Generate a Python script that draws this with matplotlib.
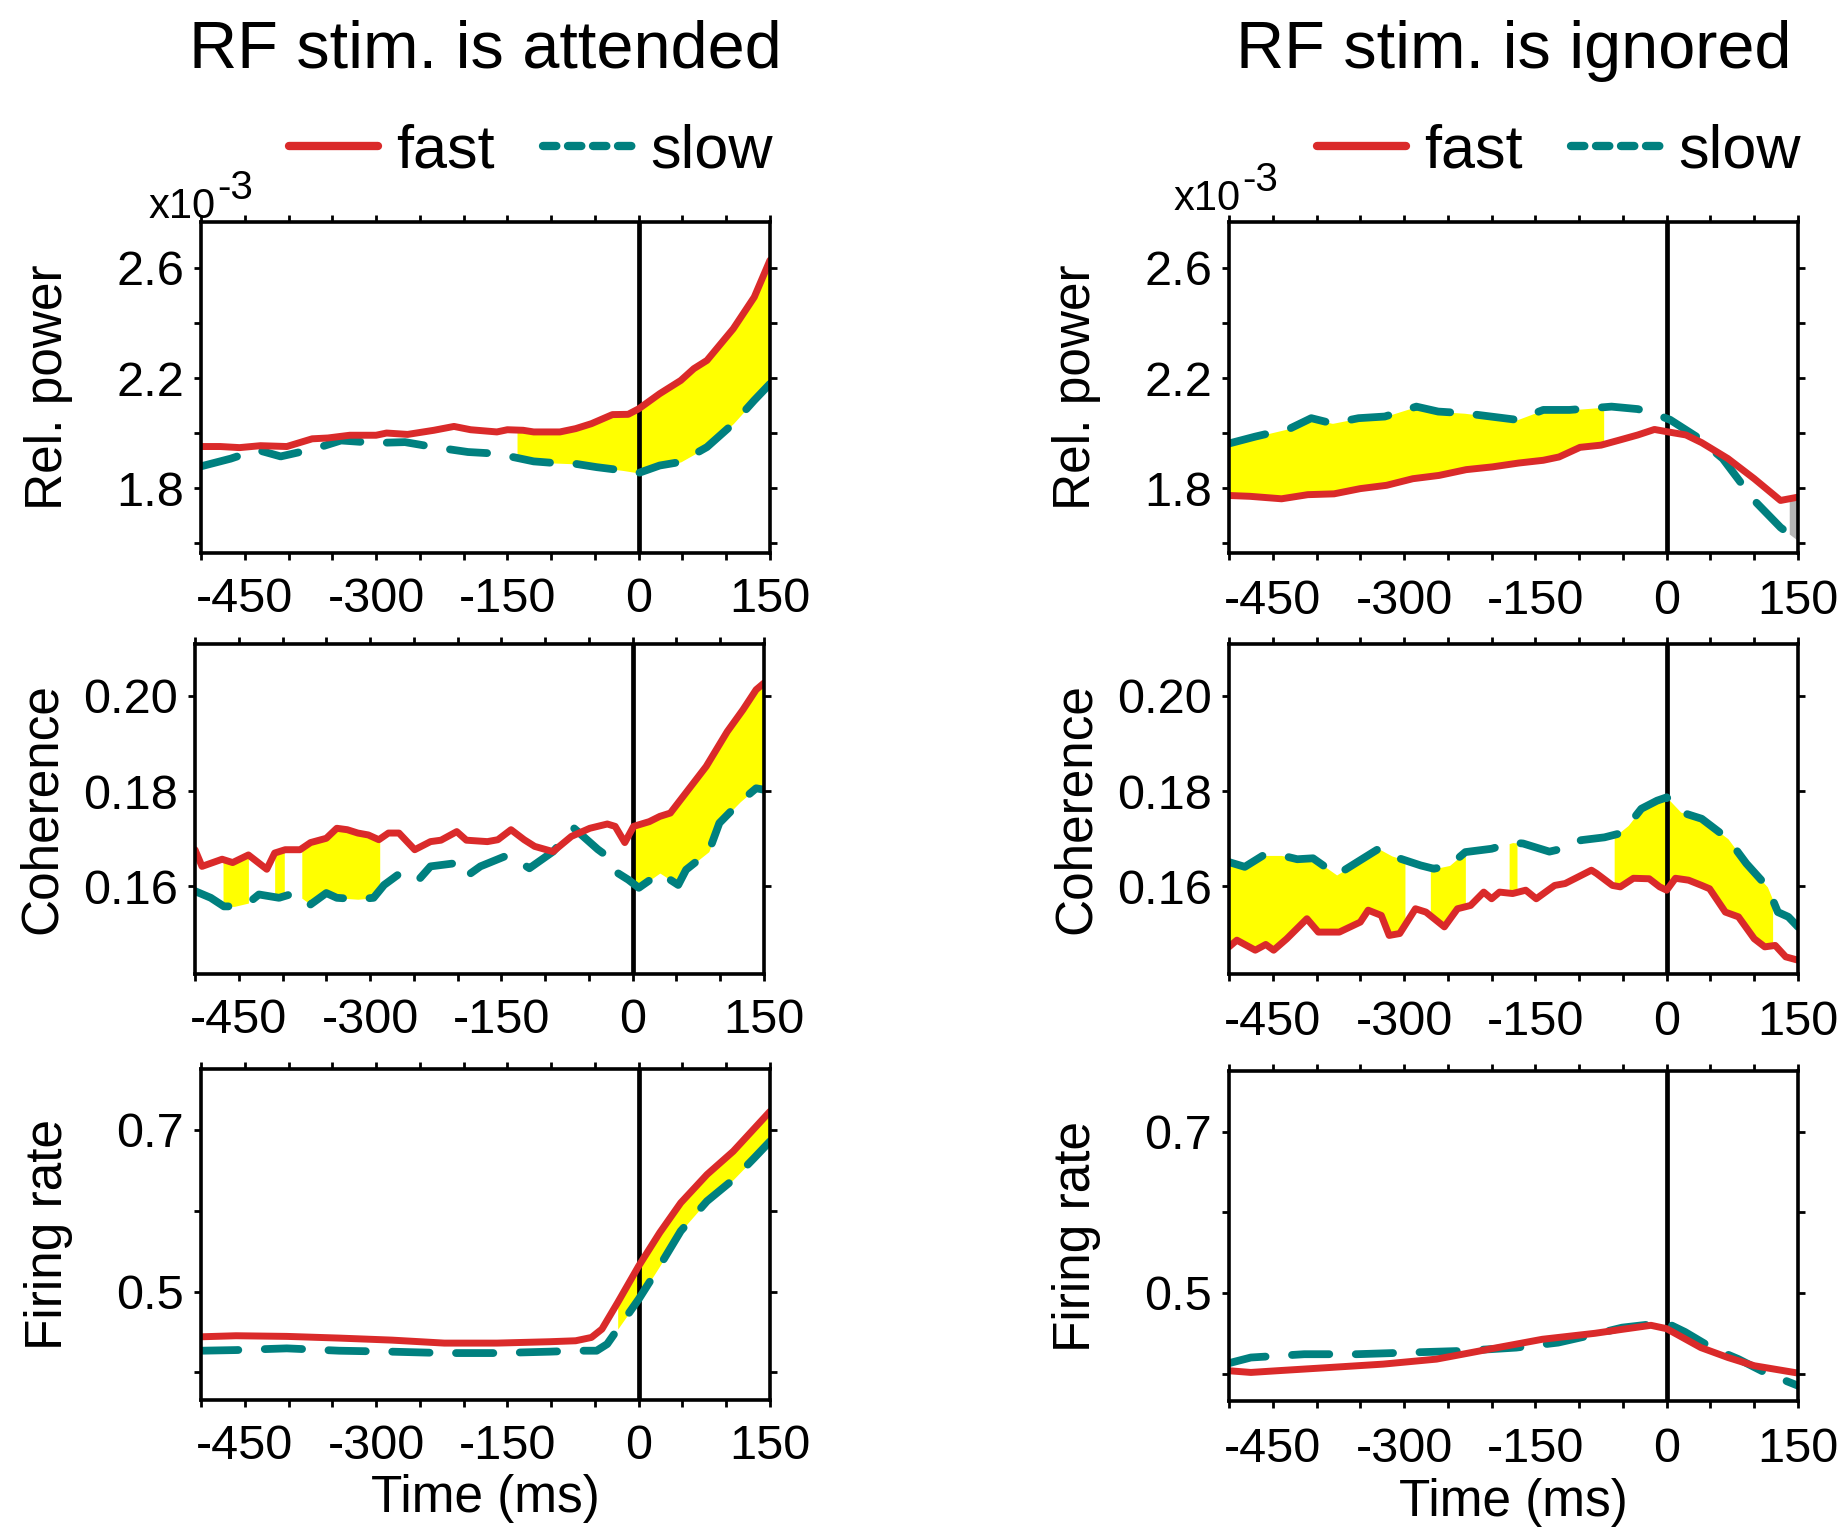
import numpy as np
import matplotlib
matplotlib.use("Agg")
import matplotlib.pyplot as plt
from matplotlib.lines import Line2D

plt.rcParams['font.family'] = ['Liberation Sans', 'DejaVu Sans']
plt.rcParams['axes.unicode_minus'] = False

# ---------------- data ----------------
column_titles = ["RF stim. is attended", "RF stim. is ignored"]
row_labels = ["Rel. power", "Coherence", "Firing rate"]
series_names = ["fast", "slow"]
x_ticks = [-500, -450, -400, -350, -300, -250, -200, -150, -100, -50, 0, 50, 100, 150]
x_tick_labels = ["", "-450", "", "", "-300", "", "", "-150", "", "", "0", "", "", "150"]

# Relative power (x10^-3), attended
pa_fast_t = [-500, -478, -456, -432, -402, -373, -355, -330, -300, -288, -264, -234, -211, -192, -162, -150,
             -132, -120, -90, -72, -54, -30, -12, 0, 24, 48, 63, 78, 108, 132, 150]
pa_fast = [1.951, 1.951, 1.947, 1.954, 1.951, 1.979, 1.982, 1.992, 1.992, 2.000, 1.995, 2.010, 2.024, 2.012,
           2.004, 2.012, 2.010, 2.004, 2.004, 2.016, 2.034, 2.067, 2.068, 2.088, 2.143, 2.191, 2.234, 2.264,
           2.379, 2.494, 2.628]
pa_slow_t = [-500, -466, -436, -409, -370, -340, -300, -267, -234, -195, -162, -138, -120, -96, -72, -48, -18,
             0, 24, 48, 78, 108, 132, 150]
pa_slow = [1.879, 1.907, 1.939, 1.915, 1.943, 1.973, 1.964, 1.967, 1.949, 1.931, 1.925, 1.909, 1.897, 1.891,
           1.888, 1.876, 1.864, 1.855, 1.882, 1.895, 1.949, 2.034, 2.119, 2.179]
pa_sig = [(-139, 150)]

# Relative power (x10^-3), ignored
pi_fast_t = [-500, -476, -440, -410, -380, -350, -320, -290, -260, -229, -199, -169, -141, -123, -99, -75, -51,
             -33, -14, 0, 22, 40, 70, 100, 130, 150]
pi_fast = [1.773, 1.770, 1.761, 1.776, 1.779, 1.798, 1.810, 1.834, 1.846, 1.867, 1.877, 1.891, 1.901, 1.913,
           1.948, 1.956, 1.977, 1.993, 2.013, 2.005, 1.993, 1.965, 1.907, 1.834, 1.755, 1.767]
pi_slow_t = [-500, -470, -430, -406, -382, -352, -322, -286, -261, -231, -201, -171, -141, -111, -87, -63, -33,
             -14, 4, 34, 64, 100, 130, 150]
pi_slow = [1.962, 1.987, 2.017, 2.054, 2.035, 2.054, 2.060, 2.096, 2.078, 2.072, 2.060, 2.048, 2.084, 2.084,
           2.090, 2.096, 2.087, 2.070, 2.048, 1.987, 1.907, 1.755, 1.657, 1.609]
pi_sig = [(-500, -72)]
pi_sig_rev = [(140, 150)]

# Coherence, attended
ca_fast_t = [-500, -492, -469, -457, -439, -418, -409, -397, -380, -368, -350, -338, -326, -314, -302, -290,
             -279, -267, -249, -231, -219, -201, -190, -166, -154, -139, -124, -112, -91, -70, -49, -29, -20,
             -9, 1, 19, 31, 43, 61, 84, 108, 126, 141, 150]
ca_fast = [0.1677, 0.1642, 0.1657, 0.1650, 0.1666, 0.1636, 0.1670, 0.1677, 0.1677, 0.1692, 0.1701, 0.1722,
           0.1719, 0.1712, 0.1708, 0.1698, 0.1712, 0.1712, 0.1677, 0.1694, 0.1697, 0.1715, 0.1697, 0.1694,
           0.1698, 0.1719, 0.1698, 0.1684, 0.1673, 0.1705, 0.1722, 0.1731, 0.1726, 0.1692, 0.1726, 0.1736,
           0.1747, 0.1754, 0.1797, 0.1852, 0.1925, 0.1971, 0.2013, 0.2027]
ca_slow_t = [-500, -482, -467, -455, -439, -427, -404, -386, -368, -350, -338, -314, -296, -284, -261, -243,
             -231, -201, -190, -174, -142, -118, -91, -67, -40, -29, -18, -5, 7, 31, 52, 61, 87, 99, 123, 141, 150]
ca_slow = [0.1590, 0.1576, 0.1558, 0.1558, 0.1565, 0.1583, 0.1576, 0.1586, 0.1562, 0.1586, 0.1576, 0.1573,
           0.1576, 0.1603, 0.1634, 0.1617, 0.1642, 0.1649, 0.1621, 0.1642, 0.1666, 0.1638, 0.1673, 0.1722,
           0.1678, 0.1663, 0.1629, 0.1614, 0.1597, 0.1628, 0.1603, 0.1635, 0.1673, 0.1733, 0.1778, 0.1806, 0.1803]
ca_sig = [(-468, -439), (-409, -398), (-378, -289), (0, 150)]

# Coherence, ignored
ci_fast_t = [-500, -491, -470, -458, -449, -434, -411, -398, -374, -350, -341, -326, -317, -305, -287, -275,
             -254, -239, -224, -209, -200, -191, -176, -161, -149, -128, -116, -86, -80, -62, -53, -38, -20, -8,
             0, 10, 25, 40, 49, 67, 82, 100, 112, 124, 136, 150]
ci_fast = [0.1473, 0.1487, 0.1466, 0.1478, 0.1466, 0.1490, 0.1532, 0.1504, 0.1504, 0.1525, 0.1550, 0.1539,
           0.1497, 0.1501, 0.1553, 0.1546, 0.1515, 0.1553, 0.1560, 0.1588, 0.1574, 0.1588, 0.1585, 0.1592,
           0.1574, 0.1602, 0.1606, 0.1634, 0.1627, 0.1602, 0.1599, 0.1617, 0.1616, 0.1599, 0.1592, 0.1617,
           0.1613, 0.1602, 0.1595, 0.1546, 0.1536, 0.1490, 0.1473, 0.1476, 0.1452, 0.1445]
ci_slow_t = [-500, -482, -461, -440, -422, -404, -377, -350, -329, -314, -281, -266, -248, -230, -200, -176,
             -164, -134, -110, -98, -71, -56, -44, -29, -11, 0, 16, 40, 70, 91, 115, 127, 139, 150]
ci_slow = [0.1651, 0.1641, 0.1665, 0.1665, 0.1657, 0.1659, 0.1624, 0.1655, 0.1679, 0.1664, 0.1644, 0.1637,
           0.1644, 0.1672, 0.1679, 0.1692, 0.1690, 0.1673, 0.1683, 0.1697, 0.1703, 0.1710, 0.1728, 0.1763,
           0.1780, 0.1787, 0.1756, 0.1742, 0.1700, 0.1648, 0.1599, 0.1546, 0.1536, 0.1515]
ci_sig = [(-500, -299), (-270, -230), (-180, -171), (-60, 121)]

# Firing rate, attended
ra_fast_t = [-500, -460, -402, -342, -282, -222, -162, -102, -72, -54, -42, -24, 0, 24, 48, 78, 108, 150]
ra_fast = [0.4441, 0.4454, 0.4446, 0.4425, 0.4400, 0.4363, 0.4363, 0.4380, 0.4392, 0.4433, 0.4536, 0.4864,
           0.5316, 0.5727, 0.6096, 0.6446, 0.6733, 0.7226]
ra_slow_t = [-500, -460, -402, -342, -282, -222, -162, -102, -72, -48, -36, -24, 0, 24, 48, 78, 108, 132, 150]
ra_slow = [0.4269, 0.4277, 0.4298, 0.4269, 0.4257, 0.4240, 0.4240, 0.4257, 0.4269, 0.4269, 0.4351, 0.4536,
           0.4906, 0.5316, 0.5747, 0.6117, 0.6384, 0.6651, 0.6856]
ra_sig = [(-24, 150)]

# Firing rate, ignored
ri_fast_t = [-500, -475, -445, -384, -324, -263, -233, -203, -142, -82, -51, -18, 0, 39, 70, 100, 150]
ri_fast = [0.4035, 0.4014, 0.4035, 0.4076, 0.4117, 0.4179, 0.4240, 0.4302, 0.4425, 0.4499, 0.4548, 0.4598,
           0.4556, 0.4322, 0.4199, 0.4097, 0.4006]
ri_slow_t = [-500, -475, -414, -354, -293, -233, -172, -124, -82, -51, -12, 3, 21, 51, 82, 112, 150]
ri_slow = [0.4129, 0.4199, 0.4240, 0.4240, 0.4261, 0.4281, 0.4322, 0.4384, 0.4487, 0.4569, 0.4618, 0.4610,
           0.4515, 0.4322, 0.4179, 0.4014, 0.3850]
ri_sig = []

# ---------------- style ----------------
RED = '#DA2A2A'
TEAL = '#00807F'
YELLOW = '#FFFF00'
GRAY = '#B4B4B4'

W, H = 1844, 1527
fig = plt.figure(figsize=(W / 100, H / 100), dpi=100)
fig.patch.set_facecolor('white')


def add_ax(l, t, r, b):
    return fig.add_axes([l / W, 1 - b / H, (r - l) / W, (b - t) / H])


rows = [
    dict(ylim=(1.564, 2.767), yticks=[1.6, 1.8, 2.0, 2.2, 2.4, 2.6],
         ylabels=["", "1.8", "", "2.2", "", "2.6"]),
    dict(ylim=(0.1416, 0.2109), yticks=[0.16, 0.18, 0.20],
         ylabels=["0.16", "0.18", "0.20"]),
    dict(ylim=(0.366, 0.775), yticks=[0.4, 0.5, 0.6, 0.7],
         ylabels=["", "0.5", "", "0.7"]),
]

panels = [
    [(pa_fast_t, pa_fast, pa_slow_t, pa_slow, pa_sig, []),
     (pi_fast_t, pi_fast, pi_slow_t, pi_slow, pi_sig, pi_sig_rev)],
    [(ca_fast_t, ca_fast, ca_slow_t, ca_slow, ca_sig, []),
     (ci_fast_t, ci_fast, ci_slow_t, ci_slow, ci_sig, [])],
    [(ra_fast_t, ra_fast, ra_slow_t, ra_slow, ra_sig, []),
     (ri_fast_t, ri_fast, ri_slow_t, ri_slow, ri_sig, [])],
]

boxes = [
    [(201, 222, 770, 553), (1229, 222, 1798, 553)],
    [(195, 644, 764, 974), (1229, 644, 1798, 974)],
    [(201, 1069, 770, 1400), (1229, 1071, 1798, 1401)],
]

TICK_FS = 35
LABEL_FS = 37

for r in range(3):
    for c in range(2):
        l, t, rr, b = boxes[r][c]
        ax = add_ax(l, t, rr, b)
        ft, fv, st, sv, sig, sig_rev = panels[r][c]
        for (a0, a1) in sig:
            xx = np.linspace(a0, a1, 300)
            ax.fill_between(xx, np.interp(xx, ft, fv), np.interp(xx, st, sv),
                            color=YELLOW, lw=0, zorder=1)
        for (a0, a1) in sig_rev:
            xx = np.linspace(a0, a1, 50)
            ax.fill_between(xx, np.interp(xx, ft, fv), np.interp(xx, st, sv),
                            color=GRAY, lw=0, zorder=1)
        ax.axvline(0, color='black', lw=3.4, zorder=2)
        ax.plot(st, sv, color=TEAL, lw=5.6, dashes=(4.8, 3.4), dash_capstyle='round',
                solid_capstyle='round', zorder=3)
        ax.plot(ft, fv, color=RED, lw=5.0, solid_capstyle='round', solid_joinstyle='round', zorder=4)

        ax.set_xlim(-500, 150)
        ax.set_ylim(*rows[r]['ylim'])
        ax.set_xticks(x_ticks)
        ax.set_xticklabels(x_tick_labels)
        ax.set_yticks(rows[r]['yticks'])
        ax.set_yticklabels(rows[r]['ylabels'])
        ax.tick_params(axis='both', which='both', direction='out', length=5, width=2,
                       top=True, right=True, labelsize=TICK_FS, colors='black')
        ax.tick_params(axis='x', pad=12 if c == 0 else 14)
        ax.tick_params(axis='y', pad=7)
        for s in ax.spines.values():
            s.set_linewidth(2.6)
            s.set_zorder(5)

        axw = rr - l
        ax.set_ylabel(row_labels[r], fontsize=LABEL_FS)
        ax.yaxis.set_label_coords(-128 / axw, 0.5)

        if r == 2:
            ax.set_xlabel("Time (ms)", fontsize=LABEL_FS, labelpad=4)

        if r == 0:
            yb = 1.0 + (4 if c == 0 else 12) / (b - t)
            xo = (-52 if c == 0 else -55) / axw
            tx = ax.text(xo, yb, 'x10', transform=ax.transAxes,
                         fontsize=30, ha='left', va='baseline')
            ax.annotate('-3', xy=(1.0, 0.0), xycoords=tx, xytext=(0.5, 20),
                        textcoords='offset points', fontsize=29, ha='left', va='baseline')
            handles = [Line2D([], [], color=RED, lw=6, solid_capstyle='round'),
                       Line2D([], [], color=TEAL, lw=6, dashes=(1.6, 1.4), dash_capstyle='round')]
            ax.legend(handles, series_names, loc='center right',
                      bbox_to_anchor=(1.005, 1 + (t - 152) / (b - t)), ncol=2, frameon=False,
                      fontsize=44, handlelength=1.45, handletextpad=0.3, columnspacing=0.8,
                      borderaxespad=0, borderpad=0)
            fig.text((l + rr) / 2 / W, 1 - 68 / H, column_titles[c], fontsize=48,
                     ha='center', va='baseline')

fig.savefig('out.png', dpi=100, facecolor='white')
